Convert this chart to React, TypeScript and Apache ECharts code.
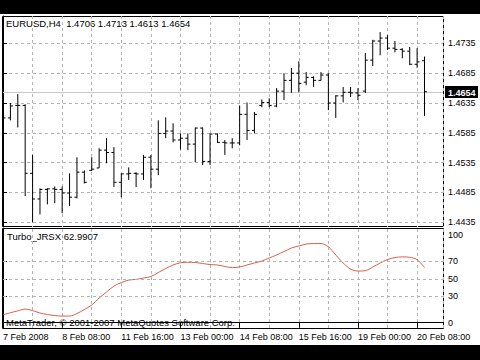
import React, { useEffect, useRef } from "react";
import * as echarts from "echarts";

const symbolTitle = "EURUSD,H4";
const indicatorName = "Turbo_JRSX";
const copyright = "MetaTrader, \u00a9 2001-2007 MetaQuotes Software Corp.";

const opens = [
  1.4628, 1.461, 1.4631, 1.4631, 1.4517, 1.4474, 1.449, 1.4491, 1.449, 1.4484,
  1.4477, 1.4519, 1.4522, 1.4526, 1.4556, 1.4552, 1.4502, 1.4516, 1.4517, 1.4516,
  1.4544, 1.4524, 1.4584, 1.4588, 1.4573, 1.4576, 1.4566, 1.4593, 1.4537, 1.4583,
  1.4569, 1.4568, 1.4568, 1.4616, 1.4589, 1.4631, 1.4636, 1.463, 1.4655, 1.4673,
  1.4685, 1.467, 1.4678, 1.4673, 1.4682, 1.4635, 1.4647, 1.4653, 1.4652, 1.4655,
  1.4707, 1.4739, 1.4744, 1.4727, 1.4725, 1.4722, 1.47, 1.4706,
];
const highs = [
  1.4631, 1.4635, 1.465, 1.4633, 1.4548, 1.4492, 1.4492, 1.4495, 1.4495, 1.4517,
  1.4544, 1.4522, 1.4544, 1.4559, 1.4576, 1.4561, 1.4517, 1.4527, 1.4519, 1.4548,
  1.4548, 1.4606, 1.4611, 1.4601, 1.4584, 1.4584, 1.4594, 1.4594, 1.4584, 1.4584,
  1.4573, 1.4576, 1.4631, 1.4636, 1.462, 1.4641, 1.4643, 1.466, 1.4685, 1.4694,
  1.4705, 1.4687, 1.468, 1.4687, 1.4685, 1.4648, 1.4662, 1.4662, 1.466, 1.4719,
  1.4741, 1.4754, 1.4749, 1.4739, 1.4727, 1.4729, 1.4727, 1.4713,
];
const lows = [
  1.4608, 1.4606, 1.4594, 1.4479, 1.4435, 1.4448, 1.4465, 1.4467, 1.445, 1.4462,
  1.4475, 1.45, 1.4521, 1.4526, 1.4534, 1.4494, 1.4477, 1.4506, 1.4494, 1.4506,
  1.4492, 1.4514, 1.4576, 1.4569, 1.4557, 1.4556, 1.4536, 1.4531, 1.4531, 1.4568,
  1.4548, 1.4559, 1.4564, 1.4573, 1.4584, 1.4628, 1.4628, 1.4628, 1.464, 1.4652,
  1.4653, 1.4665, 1.4662, 1.4673, 1.4623, 1.461, 1.4636, 1.4645, 1.464, 1.4652,
  1.4697, 1.4715, 1.4724, 1.472, 1.471, 1.4699, 1.4694, 1.4613,
];
const closes = [
  1.461, 1.463, 1.4631, 1.4517, 1.4474, 1.449, 1.4491, 1.449, 1.4484, 1.4477,
  1.4519, 1.4502, 1.4524, 1.4556, 1.4552, 1.4502, 1.4516, 1.4517, 1.4516, 1.4544,
  1.4524, 1.4584, 1.4588, 1.4573, 1.4576, 1.4566, 1.4593, 1.4537, 1.4583, 1.4569,
  1.4568, 1.4568, 1.4616, 1.4589, 1.4616, 1.4636, 1.4631, 1.4655, 1.4673, 1.4685,
  1.4668, 1.4678, 1.4673, 1.4682, 1.4635, 1.4647, 1.4653, 1.4652, 1.4648, 1.4707,
  1.4739, 1.4744, 1.4727, 1.4725, 1.4722, 1.47, 1.4704, 1.4654,
];
const jrsx = [
  9.1, 11.4, 13.6, 15.6, 13.9, 11.1, 9.4, 8.2, 7.6, 7.6,
  10.5, 15.1, 20.2, 28.2, 35.0, 41.9, 45.9, 48.7, 49.5, 51.0,
  52.7, 57.3, 61.9, 65.9, 68.5, 69.0, 68.8, 67.6, 66.4, 65.9,
  64.2, 62.9, 63.6, 65.9, 68.2, 70.4, 73.9, 77.3, 81.3, 85.3,
  87.6, 89.8, 90.4, 90.4, 86.8, 77.3, 68.2, 61.3, 59.0, 59.4,
  63.6, 68.2, 72.1, 74.4, 75.2, 74.7, 72.1, 62.9907,
];
const timeLabels = [
  "7 Feb 2008", "8 Feb 08:00", "11 Feb 16:00", "13 Feb 00:00",
  "14 Feb 08:00", "15 Feb 16:00", "19 Feb 00:00", "20 Feb 08:00",
];
const timeLabelBars = [0, 8, 16, 24, 32, 40, 48, 56];
const priceTicks = [1.4435, 1.4485, 1.4535, 1.4585, 1.4635, 1.4685, 1.4735];
const jrsxLabels = [0, 30, 50, 70, 100];
const jrsxLevels = [30, 50, 70];

const FONT = "Liberation Sans";
const GRID_COLOR = "#b4b4b4";

export default function App() {
  const ref = useRef<HTMLDivElement>(null);
  useEffect(() => {
    const chart = echarts.init(ref.current!, null, { renderer: "svg" });
    const last = opens.length - 1;
    const ohlc = opens.map((o, i) => [i, o, highs[i], lows[i], closes[i]]);
    const header = `${symbolTitle}  ${opens[last].toFixed(4)} ${highs[last].toFixed(4)} ${lows[last].toFixed(4)} ${closes[last].toFixed(4)}`;
    const dashed = { color: GRID_COLOR, type: [3, 3] as any, width: 1 };

    const xBase = {
      type: "value",
      min: 0,
      max: 59.5,
      interval: 8,
      splitLine: { show: true, lineStyle: dashed },
      minorTick: { show: false, splitNumber: 2 },
      minorSplitLine: { show: true, lineStyle: dashed },
    };

    chart.setOption({
      animation: false,
      backgroundColor: "#ffffff",
      textStyle: { fontFamily: FONT },
      grid: [
        { left: 3, right: 37, top: 16, bottom: 133 },
        { left: 3, right: 37, top: 229, bottom: 32 },
      ],
      xAxis: [
        {
          ...xBase,
          gridIndex: 0,
          axisLine: { show: false },
          axisTick: { show: false },
          axisLabel: { show: false },
        },
        {
          ...xBase,
          gridIndex: 1,
          axisLine: { show: true, lineStyle: { color: "#000", width: 1 } },
          axisTick: { show: true, length: 5, lineStyle: { color: "#000" } },
          axisLabel: {
            show: true,
            showMaxLabel: false,
            align: "left",
            margin: 4,
            fontSize: 9,
            fontFamily: FONT,
            color: "#000",
            formatter: (v: number) => {
              const k = timeLabelBars.indexOf(v);
              return k >= 0 ? timeLabels[k] : "";
            },
          },
        },
      ],
      yAxis: [
        {
          type: "value",
          gridIndex: 0,
          position: "right",
          min: 1.4427,
          max: 1.4781,
          axisLine: { show: true, lineStyle: { color: "#000", width: 1 } },
          axisTick: { show: true, length: 4, customValues: priceTicks, lineStyle: { color: "#000" } },
          axisLabel: {
            show: true,
            customValues: priceTicks,
            margin: 5,
            fontSize: 9,
            fontFamily: FONT,
            color: "#000",
            formatter: (v: number) => v.toFixed(4),
          },
          splitLine: { show: true, lineStyle: dashed },
        },
        {
          type: "value",
          gridIndex: 1,
          position: "right",
          min: -6,
          max: 107,
          axisLine: { show: true, lineStyle: { color: "#000", width: 1 } },
          axisTick: { show: true, length: 4, customValues: jrsxLevels, lineStyle: { color: "#000" } },
          axisLabel: {
            show: true,
            customValues: jrsxLabels,
            margin: 5,
            fontSize: 9,
            fontFamily: FONT,
            color: "#000",
          },
          splitLine: { show: false },
        },
      ],
      series: [
        {
          type: "custom",
          xAxisIndex: 0,
          yAxisIndex: 0,
          clip: false,
          encode: { x: 0, y: 1 },
          data: [[last, closes[last]]],
          renderItem: (params: any, api: any) => {
            const p = api.coord([api.value(0), api.value(1)]);
            const cs = params.coordSys;
            const y = Math.round(p[1]) + 0.5;
            const right = cs.x + cs.width;
            return {
              type: "group",
              children: [
                { type: "line", shape: { x1: cs.x, y1: y, x2: right, y2: y }, style: { stroke: "#c8c8c8", lineWidth: 1 } },
                { type: "rect", shape: { x: right + 2, y: y - 6.5, width: 33, height: 12 }, style: { fill: "#000" } },
                {
                  type: "text",
                  style: {
                    text: api.value(1).toFixed(4),
                    x: right + 5,
                    y: y,
                    fill: "#fff",
                    fontSize: 9,
                    fontWeight: "bold",
                    fontFamily: FONT,
                    verticalAlign: "middle",
                  },
                },
              ],
            };
          },
          z: 2,
        },
        {
          type: "custom",
          xAxisIndex: 0,
          yAxisIndex: 0,
          clip: true,
          encode: { x: 0, y: [1, 2, 3, 4] },
          data: ohlc,
          renderItem: (params: any, api: any) => {
            const i = api.value(0);
            const pO = api.coord([i, api.value(1)]);
            const pH = api.coord([i, api.value(2)]);
            const pL = api.coord([i, api.value(3)]);
            const pC = api.coord([i, api.value(4)]);
            const x = pH[0];
            const st = { stroke: "#000", lineWidth: 1 };
            return {
              type: "group",
              children: [
                { type: "line", shape: { x1: x, y1: pH[1], x2: x, y2: pL[1] }, style: st },
                { type: "line", shape: { x1: x - 2.5, y1: pO[1], x2: x, y2: pO[1] }, style: st },
                { type: "line", shape: { x1: x, y1: pC[1], x2: x + 2.5, y2: pC[1] }, style: st },
              ],
            };
          },
          z: 3,
        },
        {
          type: "line",
          xAxisIndex: 1,
          yAxisIndex: 1,
          data: jrsx.map((v, i) => [i, v]),
          smooth: 0.3,
          showSymbol: false,
          lineStyle: { color: "#d9604a", width: 1 },
          markLine: {
            silent: true,
            symbol: "none",
            label: { show: false },
            lineStyle: dashed,
            data: jrsxLevels.map((v) => ({ yAxis: v })),
          },
          z: 3,
        },
      ],
      graphic: [
        { type: "rect", silent: true, shape: { x: 0, y: 0, width: 480, height: 14 }, style: { fill: "#000" } },
        { type: "rect", silent: true, shape: { x: 0, y: 345, width: 480, height: 15 }, style: { fill: "#000" } },
        { type: "rect", silent: true, shape: { x: 2.5, y: 16.5, width: 441, height: 210 }, style: { fill: "none", stroke: "#000", lineWidth: 1 } },
        { type: "rect", silent: true, shape: { x: 2.5, y: 228.5, width: 441, height: 100 }, style: { fill: "none", stroke: "#000", lineWidth: 1 } },
        { type: "text", silent: true, x: 6, y: 18.5, style: { text: header, fill: "#000", fontSize: 9.5, fontFamily: FONT } },
        { type: "text", silent: true, x: 7, y: 231, style: { text: `${indicatorName} ${jrsx[last].toFixed(4)}`, fill: "#000", fontSize: 9.5, fontFamily: FONT } },
        { type: "text", silent: true, x: 6, y: 317.5, style: { text: copyright, fill: "#000", fontSize: 9.5, fontFamily: FONT } },
      ],
    });
    return () => chart.dispose();
  }, []);
  return <div ref={ref} style={{ position: "fixed", left: 0, top: 0, width: 480, height: 360 }} />;
}
